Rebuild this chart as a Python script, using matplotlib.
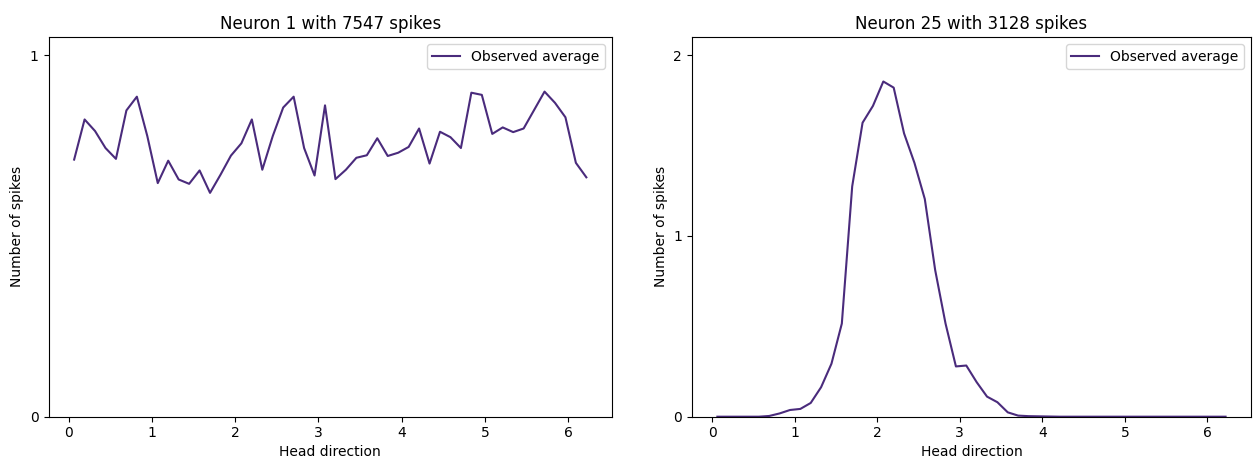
import numpy as np
import matplotlib
matplotlib.use("Agg")
import matplotlib.pyplot as plt

n_bins = 50
bin_edges = np.linspace(0, 2 * np.pi, n_bins + 1)
head_direction = (bin_edges[:-1] + bin_edges[1:]) / 2

neuron1_avg = [
    0.711, 0.822, 0.790, 0.743, 0.713, 0.847, 0.885, 0.776, 0.646, 0.708,
    0.656, 0.644, 0.681, 0.619, 0.669, 0.722, 0.756, 0.822, 0.683, 0.776,
    0.855, 0.885, 0.743, 0.667, 0.861, 0.657, 0.683, 0.716, 0.723, 0.770,
    0.721, 0.730, 0.746, 0.797, 0.700, 0.788, 0.773, 0.743, 0.896, 0.890,
    0.782, 0.800, 0.787, 0.797, 0.848, 0.899, 0.868, 0.828, 0.702, 0.662,
]
neuron25_avg = [
    0.0, 0.0, 0.0, 0.0, 0.0, 0.004, 0.018, 0.037, 0.043, 0.076,
    0.163, 0.293, 0.515, 1.274, 1.626, 1.719, 1.854, 1.820, 1.567, 1.404,
    1.204, 0.811, 0.515, 0.278, 0.283, 0.191, 0.111, 0.080, 0.024, 0.006,
    0.003, 0.002, 0.001, 0.0, 0.0, 0.0, 0.0, 0.0, 0.0, 0.0,
    0.0, 0.0, 0.0, 0.0, 0.0, 0.0, 0.0, 0.0, 0.0, 0.0,
]

titles = ["Neuron 1 with 7547 spikes", "Neuron 25 with 3128 spikes"]
series = [neuron1_avg, neuron25_avg]
yticks = [[0, 1], [0, 1, 2]]
color = "#4a2b7c"

fig = plt.figure(figsize=(12.54, 4.57), dpi=100)
ax1 = fig.add_axes([0.0387, 0.0882, 0.4493, 0.8308])
ax2 = fig.add_axes([0.5518, 0.0882, 0.4458, 0.8308])

for ax, title, vals, yt in zip([ax1, ax2], titles, series, yticks):
    ax.plot(head_direction, vals, color=color, lw=1.5, label="Observed average")
    ax.set_title(title, fontsize=12)
    ax.set_xlabel("Head direction", labelpad=3)
    ax.set_ylabel("Number of spikes")
    ax.set_yticks(yt)
    ax.set_ylim(0, 1.05 * yt[-1])
    ax.set_xticks(range(0, 7))
    ax.legend(loc="upper right")

fig.savefig("out.png", dpi=100)
